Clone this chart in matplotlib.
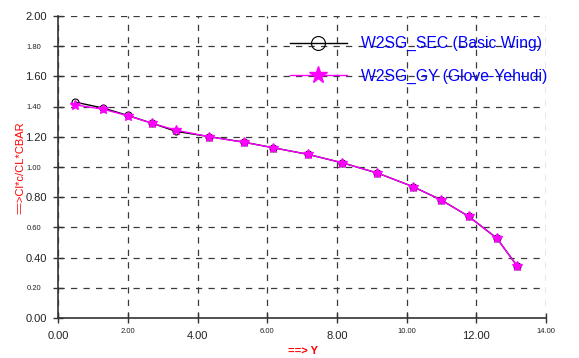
import matplotlib
matplotlib.use("Agg")
import matplotlib.pyplot as plt
from matplotlib.ticker import FixedLocator, FixedFormatter

plt.rcParams['font.family'] = ['Liberation Sans', 'DejaVu Sans']

# Data
span_y = [0.48, 1.29, 1.99, 2.70, 3.38, 4.34, 5.34, 6.16, 7.16, 8.15, 9.16, 10.18, 10.98, 11.78, 12.59, 13.18]
sec_vals = [1.430, 1.390, 1.342, 1.289, 1.236, 1.201, 1.164, 1.128, 1.084, 1.028, 0.960, 0.870, 0.783, 0.673, 0.528, 0.342]
gy_vals = [1.412, 1.382, 1.340, 1.289, 1.244, 1.200, 1.163, 1.128, 1.084, 1.028, 0.960, 0.870, 0.783, 0.673, 0.528, 0.342]
sec_label = "W2SG_SEC (Basic Wing)"
gy_label = "W2SG_GY (Glove-Yehudi)"
x_major = [0, 4, 8, 12]
x_minor = [2, 6, 10, 14]
y_major = [0.0, 0.4, 0.8, 1.2, 1.6, 2.0]
y_minor = [0.2, 0.6, 1.0, 1.4, 1.8]

fig = plt.figure(figsize=(5.79, 3.58), dpi=100)
ax = fig.add_axes([58.3/579, 1-318/358, (546-58.3)/579, (318-16)/358])

ax.plot(span_y, sec_vals, color='black', lw=1.0, marker='o', ms=5,
        mfc='none', mec='black', mew=0.8, label=sec_label, zorder=3)
ax.plot(span_y, gy_vals, color='#ff00ff', lw=1.0, marker='*', ms=7,
        mfc='#ff00ff', mec='#ff00ff', label=gy_label, zorder=4)

ax.set_xlim(0, 14)
ax.set_ylim(0, 2.0)

ax.xaxis.set_major_locator(FixedLocator(x_major))
ax.xaxis.set_major_formatter(FixedFormatter([f"{v:.2f}" for v in x_major]))
ax.xaxis.set_minor_locator(FixedLocator(x_minor))
ax.xaxis.set_minor_formatter(FixedFormatter([f"{v:.2f}" for v in x_minor]))
ax.yaxis.set_major_locator(FixedLocator(y_major))
ax.yaxis.set_major_formatter(FixedFormatter([f"{v:.2f}" for v in y_major]))
ax.yaxis.set_minor_locator(FixedLocator(y_minor))
ax.yaxis.set_minor_formatter(FixedFormatter([f"{v:.2f}" for v in y_minor]))

ax.tick_params(axis='both', which='both', direction='inout', length=7,
               width=1.0, color='#333333', labelcolor='#222222')
ax.tick_params(axis='x', which='major', labelsize=8, pad=6)
ax.tick_params(axis='x', which='minor', labelsize=5.5, pad=3.5)
ax.tick_params(axis='y', which='major', labelsize=8, pad=4.5)
ax.tick_params(axis='y', which='minor', labelsize=5.5, pad=9)

ax.grid(True, which='both', color='#3a3a3a', lw=0.9, ls=(0, (5, 5)))
ax.set_axisbelow(True)

for s in ['top', 'right']:
    ax.spines[s].set_visible(False)
for s in ['left', 'bottom']:
    ax.spines[s].set_color('#333333')
    ax.spines[s].set_linewidth(1.2)

leg = ax.legend(loc='upper left', bbox_to_anchor=(290/579, 1-36/358),
                bbox_transform=fig.transFigure, frameon=False, fontsize=11.3,
                handlelength=3.6, handletextpad=0.95, labelspacing=1.12,
                borderpad=0, borderaxespad=0, markerscale=1.0)
handles = leg.legend_handles
handles[0].set_markersize(10)
handles[1].set_markersize(13)
for t in leg.get_texts():
    t.set_color('#0000ff')

fig.text(20/579, 1-168/358, "==>Cl*c/CL*CBAR", color='#ff0000', fontsize=8,
         rotation=90, ha='center', va='center')
fig.text(303/579, 1-351/358, "==> Y", color='#ff0000', fontsize=8,
         fontweight='bold', ha='center', va='center')

fig.savefig('out.png', dpi=100)
